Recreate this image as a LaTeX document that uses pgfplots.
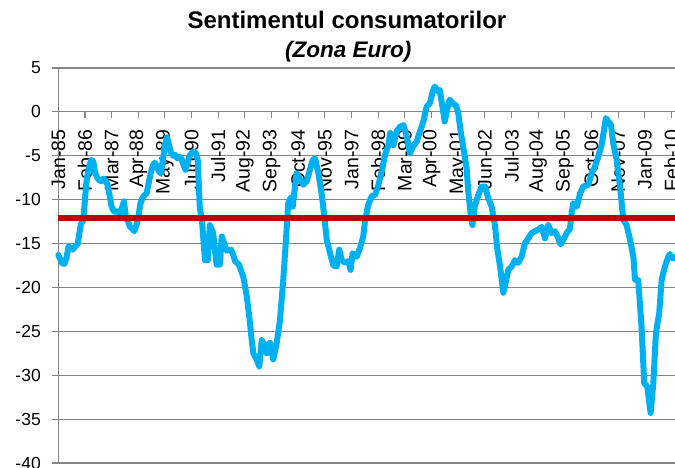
\documentclass[border=0pt]{standalone}
\usepackage{pgfplots}
\pgfplotsset{compat=1.18}
\usepackage{fontspec}
\setmainfont{Liberation Sans}
\definecolor{linblue}{RGB}{0,176,240}
\definecolor{avgred}{RGB}{192,0,0}
\definecolor{gridgray}{RGB}{134,134,134}
\begin{document}
\begin{tikzpicture}
\begin{axis}[
  set layers,
  scale only axis,
  width=616.7pt, height=395pt,
  at={(0,0)}, anchor=south west,
  xmin=0, xmax=300.7, ymin=-40, ymax=5,
  axis x line=middle, axis y line=left,
  axis line style={-, draw=gridgray, line width=1.2pt},
  ytick={-40,-35,...,5},
  xtick={0,13,...,299},
  xticklabels={Jan-85,Feb-86,Mar-87,Apr-88,May-89,Jun-90,Jul-91,Aug-92,Sep-93,Oct-94,Nov-95,Jan-97,Feb-98,Mar-99,Apr-00,May-01,Jun-02,Jul-03,Aug-04,Sep-05,Oct-06,Nov-07,Jan-09,Feb-10},
  ymajorgrids,
  grid style={gridgray, line width=1.1pt},
  tick style={gridgray, line width=1.1pt},
  major tick length=6pt,
  tick align=outside,
  hide obscured x ticks=false, hide obscured y ticks=false,
  xticklabel shift=8pt,
  xticklabel style={rotate=90, anchor=east, font=\fontsize{19.5}{20}\selectfont},
  yticklabel style={font=\fontsize{17.5}{18}\selectfont, xshift=-8pt},
  /pgf/number format/assume math mode=true,
  clip=false,
]
\addplot[linblue, line width=6pt, line join=round, line cap=round] coordinates {
(0,-16.3) (1,-16.8) (2,-17.3) (3,-17.3) (4,-16.6) (5,-15.3) (6,-15.5) (7,-15.7) (8,-15.4) (9.5,-15.0)
(10.5,-13.5) (11,-12.8) (12,-12.4) (12.5,-11.5) (13,-10) (13.5,-8.5) (14,-7.5) (15,-6.3) (16,-5.5) (17,-5.6)
(18,-7) (19,-7.5) (20,-7.8) (21,-7.9) (22,-7.6) (23,-7.8) (24,-8.3) (25,-9.5) (26,-10.8) (27,-11.3)
(28,-11.4) (29,-11.3) (30,-11.5) (31,-11.0) (32,-10.2) (33,-12) (34,-12.5) (35,-13.1) (36,-13.3) (37,-13.6)
(38,-13) (39,-12) (40,-10.5) (41,-9.8) (42,-9.5) (43,-9.3) (44,-8.2) (45,-7) (46,-6.2) (47,-5.8)
(48,-6.1) (49,-6.8) (50,-7) (51,-5.5) (52,-3.8) (53,-2.9) (54,-3.8) (55,-4.7) (56,-5) (57,-4.9)
(58,-5.3) (59,-5.1) (60,-5.3) (61,-6.0) (62,-6.6) (63,-5.8) (64,-5) (65,-4.7) (66,-4.5) (67,-4.7)
(68,-5.5) (69,-11) (70,-12.2) (71.5,-16.9) (72.9,-16.9) (73.9,-12.9) (75.5,-13.8) (77.2,-17.4) (78.8,-17.4) (79.7,-14.2)
(81.3,-15.3) (82.1,-15.8) (84.2,-15.7) (85.3,-16.3) (86.2,-17) (88.1,-17.4) (90.2,-18.8) (91.9,-21) (93.1,-23.3) (94.3,-26)
(95.1,-27.5) (96.7,-28.2) (98,-29) (99.2,-26) (100.8,-26.7) (101.6,-27.5) (103.2,-26.3) (104.8,-28.2) (106.5,-26.3) (108.1,-23.7)
(109.7,-19.1) (111,-14.6) (112.1,-10.4) (113.3,-9.8) (114.3,-10.8) (115.4,-8.5) (116.2,-7) (117.8,-7.7) (119.5,-8.3) (121.1,-7.9)
(122.7,-6.6) (124,-5.5) (125.2,-5.3) (126.8,-7) (128.4,-9.3) (129.5,-11.5) (130.9,-14.6) (132.5,-16.1) (134.1,-17.5) (135.7,-17.6)
(137.0,-15.7) (138.2,-16.9) (139.8,-17.2) (141.4,-17.0) (142.5,-18) (143.5,-16.1) (145.5,-16.5) (147.1,-15.5) (148.7,-14.2) (149.5,-12.5)
(151.1,-10.6) (152.8,-9.6) (154.4,-9.5) (156.1,-8.3) (157.7,-6.8) (159.3,-4.9) (161,-3.8) (161.8,-2.4) (163.4,-3.8) (165,-2.2)
(166.6,-1.7) (168.3,-1.5) (169.9,-2.8) (171.5,-4.7) (173.1,-3.9) (174.7,-3.4) (176.4,-2.2) (178,-1.1) (179.6,0.6) (181.2,1.0)
(182.8,2.5) (183.6,2.9) (184.8,2.4) (186,2.5) (187.3,0.6) (188.4,-1.1) (189.7,0.4) (190.8,1.4) (192.5,0.9) (193.8,0.8)
(194.9,0) (196.2,-2.2) (197.5,-4.1) (199.1,-6.4) (199.9,-9.1) (201.1,-11.7) (201.9,-12.9) (203.2,-10.6) (204.8,-9.5) (206.4,-8.5)
(208,-8.5) (209.6,-9.8) (211.3,-10.8) (212.9,-12.9) (214,-15.5) (215.4,-17.6) (217,-20.6) (217.8,-19.8) (219.4,-18) (221.1,-17.6)
(222.7,-16.9) (224.3,-17.2) (225.9,-16.5) (227.5,-15) (229.2,-14.4) (230.8,-13.8) (232.4,-13.6) (234,-13.4) (235.7,-13.1) (237.3,-14.4)
(238.9,-12.9) (240.6,-13.8) (242.2,-13.6) (243.8,-14.4) (244.9,-15.1) (246.2,-14.6) (247.9,-13.8) (249.5,-13.3) (250.3,-11.5) (251.1,-10.4)
(252.8,-10.8) (254.4,-9.3) (256,-8.5) (258.4,-8.3) (260.1,-7) (261.7,-6.2) (263.3,-5.1) (264.9,-3.8) (266.1,-2.05) (267,-0.7)
(268.2,-1.1) (269.5,-1.5) (270.6,-3.6) (272.3,-5.5) (273.9,-8.5) (275.5,-12.3) (277.1,-12.9) (278.8,-14.6) (280.4,-16.5) (281.2,-19.1)
(282.8,-19.2) (284.4,-24.5) (285.7,-30.9) (287.2,-31.3) (288.8,-34.3) (290.1,-31) (291.4,-25.2) (293,-22.9) (294.2,-19.1) (295.8,-17.6)
(297.4,-16.5) (298.2,-16.2) (299.8,-16.7) (300.7,-16.5)
};
\addplot[avgred, line width=6pt] coordinates {(0,-12.1) (300.7,-12.1)};
\node[anchor=base, font=\bfseries\fontsize{24}{24}\selectfont, yshift=39pt] at (rel axis cs:0.468,1) {Sentimentul consumatorilor};
\node[anchor=base, font=\bfseries\itshape\fontsize{22.5}{23}\selectfont, yshift=10pt] at (rel axis cs:0.470,1) {(Zona Euro)};
\end{axis}
\pgfresetboundingbox
\path[use as bounding box] (-58.3pt,-4pt) rectangle (616.7pt,463pt);
\end{tikzpicture}
\end{document}
